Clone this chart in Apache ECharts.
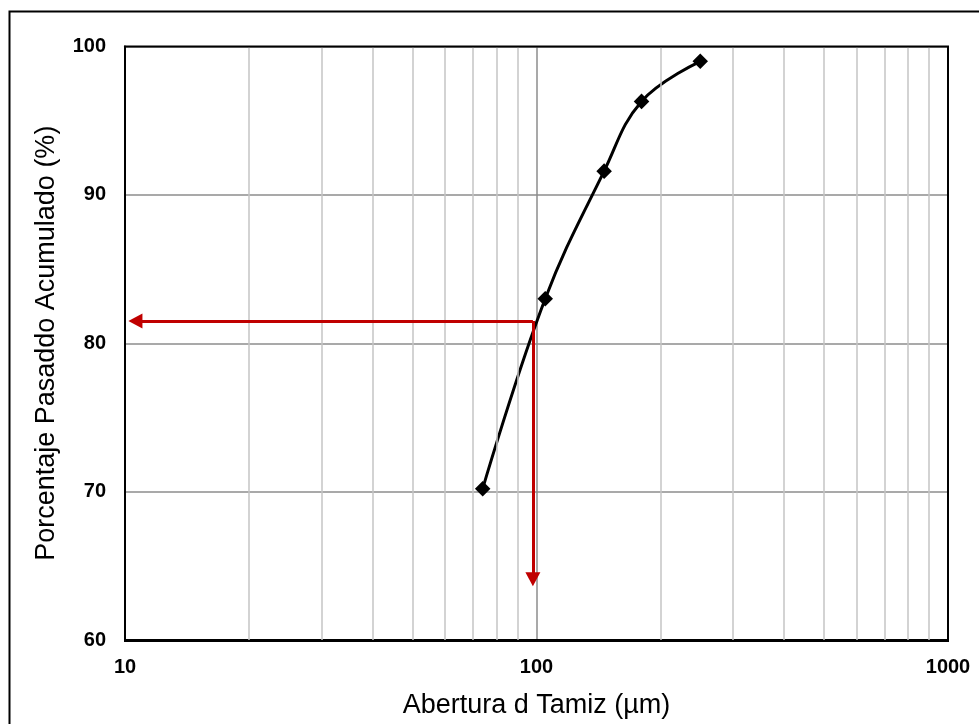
<!DOCTYPE html>
<html>
<head>
<meta charset="utf-8">
<script src="https://cdn.jsdelivr.net/npm/echarts@6/dist/echarts.min.js"></script>
<style>
html, body { margin: 0; padding: 0; background: #fff; }
#granulometria { width: 979px; height: 724px; }
</style>
</head>
<body>
<div id="granulometria"></div>
<script>
// curva granulometrica: abertura (µm) vs porcentaje pasado acumulado (%)
var abertura = [74, 105, 146, 180, 250];
var pasado = [70.2, 83.0, 91.6, 96.3, 99.0];
// lineas menores de la escala logaritmica
var lineasMenores = [20, 30, 40, 50, 60, 70, 80, 90, 200, 300, 400, 500, 600, 700, 800, 900];
// lectura del d80 (flechas rojas)
var dLectura = 98;
var pLectura = 81.5;
var flechaIzq = 10.6;
var flechaAbajo = 64.1;
// ejes
var xMin = 10, xMax = 1000;
var yMin = 60, yMax = 100, yPaso = 10;

var myChart = echarts.init(document.getElementById('granulometria'));

var puntos = abertura.map(function (d, i) { return [d, pasado[i]]; });
var menores = lineasMenores.map(function (v) { return { xAxis: v }; });

var option = {
  animation: false,
  textStyle: { fontFamily: 'Liberation Sans, Arial, sans-serif' },
  grid: { left: 125, right: 31, top: 46.5, bottom: 83 },
  graphic: [
    { // marco exterior
      type: 'rect', z: 100, silent: true,
      shape: { x: 9.5, y: 11.5, width: 1200, height: 1200 },
      style: { fill: 'none', stroke: '#000', lineWidth: 2 }
    },
    { // borde del area de trazado
      type: 'rect', z: 100, silent: true,
      shape: { x: 125, y: 46.5, width: 823, height: 594.5 },
      style: { fill: 'none', stroke: '#000', lineWidth: 2 }
    }
  ],
  xAxis: {
    type: 'log',
    logBase: 10,
    min: xMin,
    max: xMax,
    name: 'Abertura d Tamiz (µm)',
    nameLocation: 'middle',
    nameGap: 52,
    nameTextStyle: { fontSize: 27, color: '#000' },
    axisLine: { show: true, lineStyle: { color: '#000', width: 2 } },
    axisTick: { show: false },
    axisLabel: {
      fontSize: 20, fontWeight: 'bold', color: '#000', margin: 17,
      formatter: function (v) { return String(Math.round(v)); }
    },
    splitLine: { show: true, lineStyle: { color: '#8c8c8c', width: 1.5 } }
  },
  yAxis: {
    type: 'value',
    min: yMin,
    max: yMax,
    interval: yPaso,
    name: 'Porcentaje Pasaddo Acumulado (%)',
    nameLocation: 'middle',
    nameGap: 65,
    nameTextStyle: { fontSize: 27, color: '#000' },
    axisLine: { show: true, lineStyle: { color: '#000', width: 2 } },
    axisTick: { show: false },
    axisLabel: { fontSize: 20, fontWeight: 'bold', color: '#000', margin: 19 },
    splitLine: { show: true, lineStyle: { color: '#8c8c8c', width: 1.5 } }
  },
  series: [
    {
      name: 'menores',
      type: 'line',
      data: [],
      z: 1,
      silent: true,
      markLine: {
        silent: true,
        symbol: ['none', 'none'],
        label: { show: false },
        lineStyle: { color: '#c4c4c4', width: 1.5, type: 'solid' },
        data: menores
      }
    },
    {
      name: 'Pasado',
      type: 'line',
      data: puntos,
      z: 3,
      smooth: 0.4,
      symbol: 'rect',
      symbolSize: 11,
      symbolRotate: 45,
      itemStyle: { color: '#000' },
      lineStyle: { color: '#000', width: 3 },
      markLine: {
        silent: true,
        symbol: ['none', 'triangle'],
        symbolSize: [15, 14],
        label: { show: false },
        lineStyle: { color: '#c00000', width: 3, type: 'solid' },
        data: [
          [{ coord: [dLectura, pLectura] }, { coord: [flechaIzq, pLectura] }],
          [{ coord: [dLectura, pLectura] }, { coord: [dLectura, flechaAbajo] }]
        ]
      }
    }
  ]
};

myChart.setOption(option);
window.addEventListener('resize', function () { myChart.resize(); });
</script>
</body>
</html>
